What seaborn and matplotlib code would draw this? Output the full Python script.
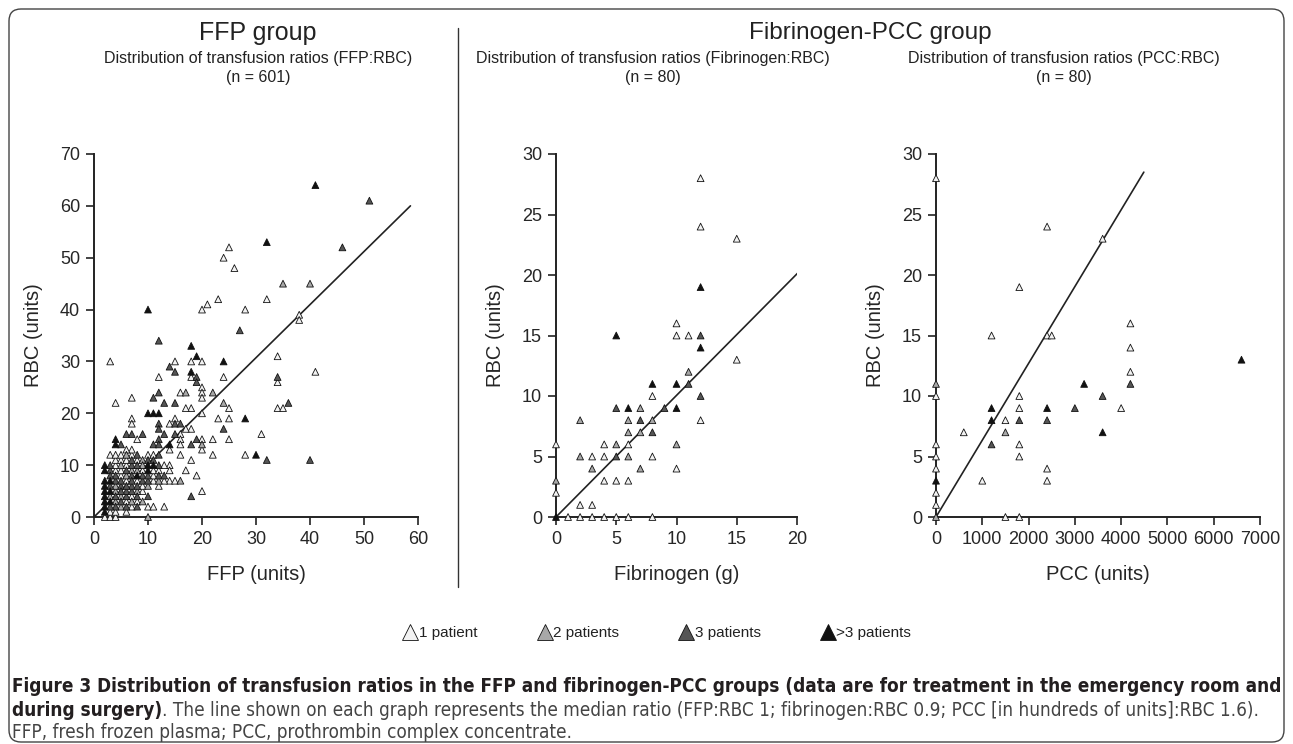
import matplotlib
matplotlib.use("Agg")
import matplotlib.pyplot as plt
import matplotlib.patches as mpatches
from matplotlib import font_manager
from matplotlib.lines import Line2D
import pandas as pd
import seaborn as sns

# ---- data: points are (x, y) cells, split by how many patients sit on each ----
ffp_one = [(25, 52), (24, 50), (26, 48), (23, 42), (21, 41), (20, 40), (28, 40), (32, 42),
           (38, 39), (38, 38), (3, 30), (34, 31), (41, 28), (34, 26), (34, 21), (35, 21),
           (31, 16), (28, 12), (24, 27), (25, 21), (23, 19), (25, 19), (25, 15), (22, 15),
           (22, 12), (20, 30), (20, 25), (20, 24), (20, 23), (20, 20), (20, 15), (20, 13),
           (20, 5), (18, 30), (18, 27), (18, 21), (17, 21), (18, 17), (17, 17), (18, 11),
           (19, 8), (16, 24), (15, 30), (15, 19), (14, 18), (16, 16), (16, 15), (16, 14),
           (16, 12), (14, 13), (17, 9), (14, 10), (14, 9), (14, 7), (15, 7), (13, 2),
           (12, 27), (7, 23), (7, 19), (7, 18), (8, 15), (4, 22),
           (2, 0), (3, 0), (4, 0), (3, 1), (4, 1), (6, 1), (7, 2), (10, 2), (11, 2),
           (6, 3), (8, 3), (7, 4), (9, 5), (9, 6), (12, 6), (6, 7), (8, 7), (11, 7), (13, 7),
           (5, 8), (11, 8), (4, 9), (5, 9), (9, 9), (11, 9), (12, 9), (4, 10), (6, 10),
           (13, 10), (4, 11), (5, 11), (6, 11), (8, 11), (3, 12), (4, 12), (5, 12), (7, 12),
           (10, 12), (11, 12), (7, 13), (6, 13)]
ffp_two = [(35, 45), (40, 45), (22, 24), (24, 22), (10, 0), (7, 3), (12, 7), (17, 24),
           (20, 14), (16, 7), (5, 2), (9, 3), (8, 5), (10, 6), (6, 8), (7, 9), (5, 10),
           (9, 11), (6, 12), (4, 3), (3, 4), (5, 4), (4, 5), (4, 6), (8, 9), (9, 10)]
ffp_three = [(51, 61), (46, 52), (27, 36), (12, 34), (34, 27), (36, 22), (32, 11), (40, 11),
             (24, 17), (14, 29), (15, 28), (13, 22), (15, 22), (15, 18), (16, 18), (15, 16),
             (13, 16), (12, 24), (11, 23), (12, 18), (12, 17), (12, 15), (11, 14), (12, 14),
             (9, 16), (6, 16), (7, 16), (5, 14), (19, 15), (19, 27), (19, 26), (18, 14),
             (18, 4), (4, 2), (6, 2), (8, 2), (5, 3), (6, 4), (8, 4), (10, 4), (6, 5),
             (7, 5), (5, 6), (7, 6), (8, 6), (4, 7), (5, 7), (9, 7), (10, 7), (4, 8), (7, 8),
             (9, 8), (10, 8), (12, 8), (13, 8), (3, 9), (6, 9), (3, 10), (7, 10), (12, 10),
             (7, 11), (11, 11), (8, 12), (12, 12), (3, 2), (4, 4), (5, 5), (3, 6), (6, 6),
             (7, 7), (3, 8), (8, 10), (10, 11)]
ffp_many = [(41, 64), (32, 53), (10, 40), (28, 19), (30, 12), (24, 30), (18, 33), (18, 28),
            (19, 31), (14, 14), (10, 20), (11, 20), (12, 20), (4, 15), (4, 14),
            (2, 1), (2, 2), (2, 3), (3, 3), (2, 4), (2, 5), (3, 5), (2, 6), (2, 7), (3, 7),
            (8, 8), (2, 9), (10, 9), (2, 10), (10, 10), (11, 10)]

fib_one = [(12, 28), (12, 24), (15, 23), (10, 16), (10, 15), (11, 15), (15, 13), (8, 10),
           (12, 8), (4, 6), (6, 6), (0, 6), (3, 5), (4, 5), (8, 5), (10, 4), (4, 3), (5, 3),
           (6, 3), (0, 2), (2, 1), (3, 1), (1, 0), (2, 0), (3, 0), (4, 0), (5, 0), (6, 0),
           (8, 0)]
fib_two = [(11, 12), (7, 9), (2, 8), (6, 8), (8, 8), (6, 7), (7, 7), (5, 6), (10, 6), (2, 5),
           (6, 5), (3, 4), (7, 4), (0, 3)]
fib_three = [(12, 15), (11, 11), (12, 10), (5, 9), (9, 9), (7, 8), (8, 7), (5, 5)]
fib_many = [(12, 19), (5, 15), (12, 14), (8, 11), (10, 11), (6, 9), (10, 9), (0, 0)]

pcc_one = [(0, 28), (0, 10), (0, 6), (0, 5), (0, 4), (0, 2), (0, 1), (600, 7), (1000, 3),
           (1200, 15), (1500, 8), (1500, 0), (1800, 19), (1800, 10), (1800, 9), (1800, 6),
           (1800, 5), (1800, 0), (2400, 24), (2400, 15), (2500, 15), (2400, 4), (2400, 3),
           (3600, 23), (4000, 9), (4200, 16), (4200, 14), (4200, 12)]
pcc_two = [(0, 11), (1500, 7), (0, 0)]
pcc_three = [(1200, 6), (2400, 8), (1800, 8), (3000, 9), (3600, 10), (4200, 11)]
pcc_many = [(0, 3), (1200, 9), (1200, 8), (2400, 9), (3200, 11), (3600, 7), (6600, 13)]

# median-ratio lines (end points)
ffp_line = ([0, 58.6], [0, 60])
fib_line = ([0, 20.2], [0, 20.3])
pcc_line = ([0, 4490], [0, 28.5])

groups = ["1 patient", "2 patients", "3 patients", ">3 patients"]
colors = {"1 patient": "#f2f2f2", "2 patients": "#a8a8a8",
          "3 patients": "#555555", ">3 patients": "#111111"}


def to_frame(one, two, three, many):
    rows = []
    for g, pts in zip(groups, [one, two, three, many]):
        rows += [(x, y, g) for x, y in pts]
    return pd.DataFrame(rows, columns=["x", "y", "n"])


sns.set_theme(style="ticks")
plt.rcParams["font.family"] = ["Liberation Sans", "DejaVu Sans"]
plt.rcParams["text.color"] = "#222222"

W, H = 1293, 744
fig = plt.figure(figsize=(W / 100, H / 100), dpi=100)


def px_axes(left, bottom_px, width, height):
    return fig.add_axes([left / W, 1 - bottom_px / H, width / W, height / H])


panels = [
    (px_axes(94, 517, 324, 363), to_frame(ffp_one, ffp_two, ffp_three, ffp_many), ffp_line,
     (0, 60), (0, 70), range(0, 61, 10), range(0, 71, 10), "FFP (units)"),
    (px_axes(556, 517, 241, 363), to_frame(fib_one, fib_two, fib_three, fib_many), fib_line,
     (0, 20), (0, 30), range(0, 21, 5), range(0, 31, 5), "Fibrinogen (g)"),
    (px_axes(936, 517, 324, 363), to_frame(pcc_one, pcc_two, pcc_three, pcc_many), pcc_line,
     (0, 7000), (0, 30), range(0, 7001, 1000), range(0, 31, 5), "PCC (units)"),
]

for ax, df, line, xlim, ylim, xt, yt, xlab in panels:
    ax.plot(line[0], line[1], color="#222222", lw=1.2, zorder=1)
    sns.scatterplot(data=df, x="x", y="y", hue="n", hue_order=groups, palette=colors,
                    marker="^", s=24, edgecolor="#111111", linewidth=0.6,
                    legend=False, ax=ax, clip_on=False, zorder=3)
    ax.set_xlim(*xlim); ax.set_ylim(*ylim)
    ax.set_xticks(list(xt)); ax.set_yticks(list(yt))
    ax.set_xlabel(xlab, fontsize=14.5, labelpad=12)
    ax.set_ylabel("RBC (units)", fontsize=14.5, labelpad=12)
    ax.tick_params(labelsize=13, length=6, width=1.2, color="#222222", pad=4)
    for s in ["left", "bottom"]:
        ax.spines[s].set_linewidth(1.4)
        ax.spines[s].set_color("#222222")
    sns.despine(ax=ax)
    ax.set_facecolor("white")

# headings
fig.text(258 / W, 1 - 33 / H, "FFP group", fontsize=18, ha="center", va="center")
fig.text(870 / W, 1 - 33 / H, "Fibrinogen-PCC group", fontsize=17.5, ha="center", va="center")
for cx, sub in [(258, "Distribution of transfusion ratios (FFP:RBC)\n(n = 601)"),
                (653, "Distribution of transfusion ratios (Fibrinogen:RBC)\n(n = 80)"),
                (1064, "Distribution of transfusion ratios (PCC:RBC)\n(n = 80)")]:
    fig.text(cx / W, 1 - 68 / H, sub, fontsize=11.5, ha="center", va="center", linespacing=1.4)

# divider between groups
fig.add_artist(Line2D([458 / W, 458 / W], [1 - 28 / H, 1 - 587 / H], color="#333333", lw=1))

# legend
handles = [Line2D([], [], marker="^", linestyle="", markersize=12, markerfacecolor=colors[g],
                  markeredgecolor="#111111", markeredgewidth=0.6) for g in groups]
fig.legend(handles, groups, loc="center", bbox_to_anchor=(657 / W, 1 - 633 / H), ncol=4,
           frameon=False, fontsize=11, handletextpad=0.05, columnspacing=3.9, handlelength=1.0)

# caption: use a condensed face if one is installed
cap_font = dict(family="Liberation Sans")
cond = font_manager.FontProperties(family="DejaVu Sans", stretch="condensed")
if "Condensed" in font_manager.findfont(cond):
    cap_font = dict(family="DejaVu Sans", stretch="condensed")

cap_fs = 13
x0 = 12 / W
t1 = fig.text(x0, 1 - 686 / H, "Figure 3 Distribution of transfusion ratios in the FFP and "
              "fibrinogen-PCC groups (data are for treatment in the emergency room and",
              fontsize=cap_fs, fontweight="bold", va="center", color="#231f20", **cap_font)
t2 = fig.text(x0, 1 - 710 / H, "during surgery)", fontsize=cap_fs, fontweight="bold",
              va="center", color="#231f20", **cap_font)
t3 = fig.text(x0, 1 - 710 / H, ". The line shown on each graph represents the median ratio "
              "(FFP:RBC 1; fibrinogen:RBC 0.9; PCC [in hundreds of units]:RBC 1.6).",
              fontsize=cap_fs, va="center", color="#444444", **cap_font)
t4 = fig.text(x0, 1 - 732 / H, "FFP, fresh frozen plasma; PCC, prothrombin complex concentrate.",
              fontsize=cap_fs, va="center", color="#444444", **cap_font)
fig.canvas.draw()
r = fig.canvas.get_renderer()
w1 = t1.get_window_extent(r).width
w2 = t2.get_window_extent(r).width + t3.get_window_extent(r).width
cap_fs = cap_fs * min(1271 / w1, 1262 / w2)
for t in (t1, t2, t3, t4):
    t.set_fontsize(cap_fs)
fig.canvas.draw()
t3.set_x(t2.get_window_extent(r).x1 / W)

# rounded frame around the figure
frame = mpatches.FancyBboxPatch((9, 2), W - 18, H - 11,
                                boxstyle="round,pad=0,rounding_size=12",
                                transform=None, fill=False, edgecolor="#444444", lw=1)
fig.patches.append(frame)

fig.savefig("out.png", dpi=100)
